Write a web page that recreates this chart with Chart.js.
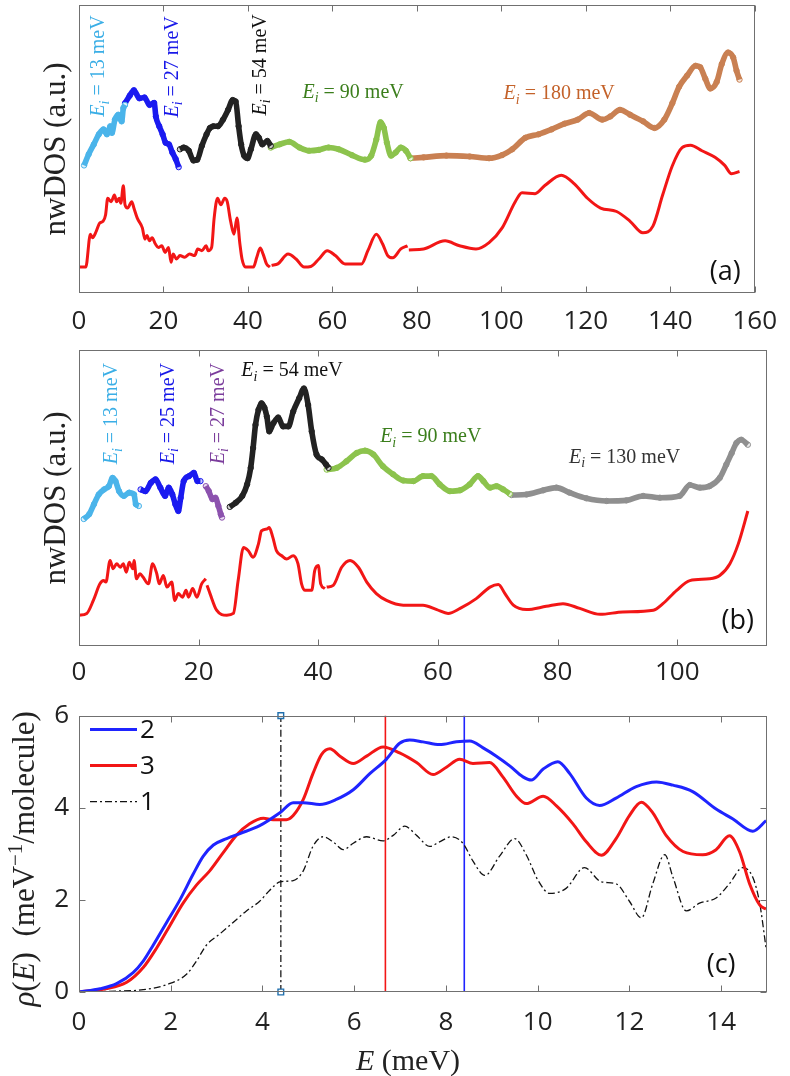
<!DOCTYPE html>
<html>
<head>
<meta charset="utf-8">
<script src="https://cdn.jsdelivr.net/npm/chart.js"></script>
<style>
  html, body { margin: 0; padding: 0; background: #fff; }
  #wrap { position: relative; width: 790px; height: 1076px; overflow: hidden; }
  canvas { position: absolute; left: 0; }
</style>
</head>
<body>
<div id="wrap">
  <canvas id="ca" width="790" height="345" style="top:0px"></canvas>
  <canvas id="cb" width="790" height="345" style="top:345px"></canvas>
  <canvas id="cc" width="790" height="386" style="top:690px"></canvas>
</div>
<script>
// ---------- panel (a): E in meV (0-160), nwDOS in a.u. (0-100)
const aRedE = [0, 1.6, 2.7, 3.2, 4.1, 4.9, 5.7, 6.3, 6.8, 7.6, 8.4, 8.9, 9.5, 9.9, 10.5, 10.9, 11.5, 12.5, 13.0, 13.8,
  15.0, 15.6, 16.1, 16.7, 17.3, 18.1, 18.8, 19.6, 20.4, 21.2, 21.8, 22.3, 23.1, 23.9, 25.0, 26.2, 27.4, 28.1, 29.1, 30.1,
  30.6, 31.4, 32.0, 32.8, 33.6, 34.5, 35.1, 35.9, 36.7, 37.4, 38.1, 38.6, 39.4, 41.3, 42.1, 42.9, 43.6, 44.4, 45.2, 45.4,
  45.6, 47.1, 49.5, 51.4, 53.3, 54.9, 56.8, 58.8, 60.7, 63.0, 66.9, 68.4, 70.4, 71.9, 73.1, 74.3, 76.2, 77.8, 78.0, 78.1,
  81.6, 86.7, 90.1, 94.0, 97.1, 100.2, 103.3, 104.9, 108.0, 110.3, 114.2, 117.3, 120.4, 123.5, 127.3, 130.5, 133.5, 135.9, 138.2, 140.5,
  142.8, 144.8, 147.5, 150.6, 152.9, 154.5, 156.4];
const aRedV = [9.0, 9.0, 20.4, 19.2, 21.5, 24.3, 24.9, 27.2, 32.9, 31.7, 34.0, 31.7, 32.9, 31.2, 37.2, 30.6, 29.5, 31.7, 29.5, 26.0,
  22.6, 18.7, 20.0, 18.1, 19.2, 17.0, 15.8, 16.4, 14.1, 15.8, 10.7, 13.5, 11.8, 13.0, 12.4, 13.5, 13.0, 15.3, 14.7, 16.4,
  14.7, 15.8, 26.0, 32.9, 30.6, 32.9, 31.7, 24.9, 20.4, 26.0, 17.0, 11.8, 9.0, 9.0, 12.4, 15.6, 13.5, 10.1, 9.0, null,
  9.6, 10.1, 13.5, 11.8, 9.0, 9.2, 11.8, 14.7, 13.0, 10.1, 10.1, 14.7, 20.4, 17.0, 13.0, 12.2, 15.3, 16.4, null, 14.9,
  15.3, 18.1, 16.4, 15.3, 17.5, 22.6, 31.7, 34.8, 34.5, 37.3, 40.9, 37.9, 32.9, 29.5, 28.3, 24.9, 20.9, 23.2, 34.0, 44.2,
  50.5, 51.3, 49.4, 47.1, 44.3, 41.4, 42.2];

const aCyanE = [1.2, 2.3, 3.5, 4.7, 5.8, 6.6, 7.4, 7.8, 8.5, 9.3, 10.1, 10.5, 10.9];
const aCyanV = [44.3, 48.2, 51.6, 55.1, 56.8, 55.1, 57.9, 55.6, 60.2, 61.9, 59.6, 64.2, 65.3];
const aBlueE = [10.9, 12.0, 13.0, 14.3, 15.5, 16.7, 17.8, 18.2, 19.0, 19.8, 20.5, 21.3, 22.1, 22.9, 23.6];
const aBlueV = [65.9, 68.5, 70.4, 67.6, 67.9, 65.3, 66.0, 61.3, 57.9, 55.1, 52.2, 51.6, 48.8, 46.5, 43.7];
const aBlackE = [23.9, 24.8, 26.0, 27.1, 28.0, 29.1, 30.2, 31.0, 31.8, 32.9, 34.1, 35.3, 36.4, 37.1, 37.8, 38.4,
  39.1, 39.9, 40.7, 41.9, 42.6, 43.4, 44.6, 45.4];
const aBlackV = [49.9, 50.5, 49.4, 46.0, 46.3, 51.1, 55.1, 57.3, 57.9, 57.9, 60.2, 63.6, 67.0, 66.5, 57.9, 51.6,
  47.7, 46.8, 49.9, 55.1, 53.9, 51.6, 52.8, 51.1];
const aGreenE = [45.4, 47.5, 49.8, 52.2, 54.5, 56.8, 59.1, 61.5, 64.6, 67.7, 69.2, 70.4, 71.4, 72.2, 72.9, 73.9, 75.0, 76.2, 77.4, 78.5];
const aGreenV = [50.5, 51.6, 52.5, 50.5, 49.4, 49.7, 50.5, 49.9, 47.9, 46.3, 47.7, 53.3, 59.3, 57.3, 52.2, 47.7, 48.8, 50.5, 49.4, 46.8];
const aBrownE = [78.5, 81.6, 87.0, 92.5, 97.1, 100.2, 102.6, 105.7, 108.8, 111.9, 115.0, 118.1, 120.8, 123.9, 125.8, 128.1, 130.5,
  133.6, 136.3, 138.6, 140.5, 142.1, 144.0, 146.0, 147.1, 148.3, 149.5, 151.0, 152.2, 153.7, 154.9, 155.7, 156.4];
const aBrownV = [46.8, 47.1, 47.7, 47.4, 46.8, 47.9, 49.9, 53.9, 55.1, 56.8, 58.8, 60.2, 62.5, 60.2, 61.3, 63.6, 61.9,
  59.6, 57.3, 60.2, 65.9, 71.6, 75.5, 78.9, 78.4, 74.4, 71.0, 73.3, 79.5, 83.5, 81.8, 77.2, 74.1];

// ---------- panel (b): E in meV (0-115), nwDOS in a.u. (0-100)
const bRedE = [0, 1.3, 2.4, 3.5, 4.1, 4.5, 5.2, 5.7, 6.3, 6.9, 7.4, 7.9, 8.4, 9.0, 9.2, 9.6, 10.2, 10.7, 11.6, 12.3,
  13.0, 13.4, 14.1, 14.7, 15.5, 16.0, 16.6, 17.3, 17.9, 18.3, 19.0, 19.7, 20.5, 21.2, 21.3, 21.4, 21.9, 23.0, 24.7, 25.8,
  26.6, 27.5, 28.3, 29.1, 30.0, 30.5, 31.4, 31.8, 32.4, 33.0, 33.9, 34.7, 35.8, 36.6, 37.2, 37.8, 38.9, 39.4, 40.0, 40.4,
  41.1, 41.25, 41.4, 42.5, 43.9, 45.3, 46.7, 48.1, 49.7, 51.4, 54.2, 57.5, 59.8, 61.7, 63.7, 66.4, 68.7, 70.1, 71.2, 72.6,
  74.8, 78.1, 80.9, 83.7, 87.1, 90.9, 96.0, 97.6, 99.9, 102.1, 105.4, 107.1, 108.8, 110.2, 111.8];
const bRedV = [10.4, 11.0, 15.4, 21.0, 22.1, 21.6, 28.9, 26.1, 27.8, 26.6, 27.8, 24.9, 28.3, 26.1, 28.9, 22.7, 24.4, 23.3, 21.0, 27.8,
  24.4, 21.0, 23.8, 19.9, 21.6, 15.4, 17.7, 16.5, 18.8, 16.5, 19.4, 16.5, 21.0, 22.7, null, 20.5, 17.7, 12.1, 10.4, 11.0,
  22.1, 33.3, 32.2, 30.0, 34.5, 38.9, 39.5, 40.0, 36.7, 32.2, 30.5, 29.4, 30.5, 27.8, 21.0, 18.8, 18.8, 25.5, 27.2, 21.0,
  19.4, null, 19.9, 20.5, 26.6, 28.9, 26.6, 21.6, 17.7, 15.4, 13.8, 13.8, 12.3, 11.0, 12.7, 16.0, 19.9, 20.8, 17.7, 13.8,
  12.3, 13.4, 14.3, 12.7, 10.7, 11.5, 12.1, 14.3, 18.8, 22.1, 22.7, 23.8, 27.8, 34.5, 45.6];

const bCyanE = [0.8, 1.7, 2.5, 3.3, 4.2, 5.0, 5.6, 6.1, 6.7, 7.5, 8.4, 9.2, 9.5, 10.0];
const bCyanV = [42.9, 44.5, 47.9, 51.2, 52.9, 54.0, 56.8, 55.7, 52.3, 50.7, 51.8, 51.2, 47.9, 47.3];
const bBlueE = [10.3, 11.1, 12.0, 12.8, 13.6, 14.4, 15.0, 15.6, 16.1, 16.6, 17.0, 17.5, 18.4, 19.2, 19.8, 20.3];
const bBlueV = [52.9, 52.3, 55.1, 56.3, 53.5, 50.7, 53.5, 51.2, 47.9, 45.6, 50.1, 55.7, 57.4, 58.5, 55.7, 55.7];
const bPurpleE = [21.2, 21.7, 22.3, 22.8, 23.3, 23.7, 23.9];
const bPurpleV = [54.0, 52.3, 49.6, 50.1, 47.3, 44.5, 43.4];
const bBlackE = [25.2, 26.2, 27.3, 28.1, 28.7, 29.1, 29.5, 30.0, 30.5, 31.0, 31.4, 31.8, 32.5, 33.3, 34.1, 35.0,
  35.8, 36.8, 37.6, 38.3, 38.9, 39.7, 40.6, 41.3, 41.7];
const bBlackV = [47.0, 48.4, 50.7, 54.6, 60.2, 66.9, 74.7, 79.8, 82.0, 80.5, 77.5, 72.5, 75.3, 77.2, 74.2, 74.2,
  79.2, 83.7, 87.0, 81.4, 72.5, 64.7, 63.0, 61.3, 60.2];
const bGreenE = [41.4, 43.1, 44.7, 46.4, 47.8, 49.2, 50.8, 52.5, 54.2, 55.9, 57.5, 58.9, 60.3, 62.0, 63.7, 65.3,
  66.7, 67.6, 68.7, 69.8, 70.9, 72.0];
const bGreenV = [59.6, 60.2, 62.4, 65.2, 66.0, 64.7, 60.7, 58.0, 55.9, 55.7, 57.4, 57.4, 54.6, 52.3, 52.6, 54.6,
  57.4, 55.7, 53.5, 54.0, 52.9, 51.4];
const bGrayE = [72.3, 74.8, 77.6, 79.8, 82.0, 84.8, 88.2, 91.5, 94.3, 97.1, 100.4, 102.1, 103.8, 105.4, 107.1, 108.2,
  109.1, 109.9, 110.7, 111.8];
const bGrayV = [51.0, 51.2, 52.6, 53.5, 51.8, 49.9, 49.0, 49.2, 50.7, 50.1, 50.7, 54.4, 53.5, 54.0, 56.8, 61.3,
  65.2, 68.6, 69.7, 68.0];

// ---------- panel (c): rho(E) in meV^-1/molecule
const cBlueE = [0, 0.46, 0.82, 1.18, 1.40, 1.62, 1.91, 2.20, 2.49, 2.71, 2.93, 3.22, 3.51, 3.94, 4.38, 4.67, 4.89, 5.25,
  5.61, 5.98, 6.34, 6.70, 6.99, 7.21, 7.50, 7.86, 8.23, 8.52, 8.81, 9.10, 9.39, 9.68, 9.86, 10.12, 10.44, 10.70, 11.06,
  11.35, 11.71, 12.15, 12.59, 12.95, 13.38, 13.89, 14.25, 14.69, 14.98];
const cBlueV = [0, 0.07, 0.18, 0.42, 0.67, 1.02, 1.51, 2.00, 2.56, 2.95, 3.19, 3.33, 3.44, 3.61, 3.89, 4.11, 4.11, 4.07,
  4.18, 4.39, 4.74, 5.05, 5.40, 5.47, 5.43, 5.37, 5.43, 5.45, 5.30, 5.12, 4.91, 4.67, 4.60, 4.84, 5.00, 4.74, 4.21,
  4.05, 4.21, 4.46, 4.56, 4.49, 4.35, 3.97, 3.76, 3.49, 3.72];
const cRedE = [0, 0.58, 1.04, 1.40, 1.69, 1.98, 2.27, 2.56, 2.85, 3.14, 3.43, 3.72, 4.02, 4.23, 4.52, 4.67, 4.89, 5.10,
  5.29, 5.47, 5.69, 5.98, 6.27, 6.63, 6.99, 7.36, 7.72, 8.01, 8.30, 8.59, 8.95, 9.24, 9.54, 9.75, 10.12, 10.41, 10.77,
  11.06, 11.39, 11.71, 12.00, 12.26, 12.51, 12.80, 13.17, 13.60, 13.89, 14.18, 14.40, 14.62, 14.84, 14.98];
const cRedV = [0, 0.07, 0.21, 0.53, 0.95, 1.44, 1.93, 2.32, 2.63, 3.02, 3.40, 3.65, 3.77, 3.74, 3.74, 3.83, 4.18, 4.74,
  5.16, 5.28, 5.12, 4.96, 5.12, 5.32, 5.19, 4.98, 4.72, 4.88, 5.05, 4.96, 4.98, 4.67, 4.25, 4.09, 4.25, 4.04, 3.65,
  3.26, 2.97, 3.33, 3.83, 4.12, 3.89, 3.40, 3.05, 2.98, 3.09, 3.39, 3.05, 2.35, 1.89, 1.80];
const cBlackE = [0, 0.82, 1.40, 1.91, 2.35, 2.56, 2.78, 3.07, 3.36, 3.65, 3.94, 4.16, 4.38, 4.67, 4.89, 5.10, 5.32, 5.54,
  5.76, 5.98, 6.27, 6.63, 6.85, 7.10, 7.36, 7.65, 7.86, 8.12, 8.37, 8.59, 8.85, 9.17, 9.50, 9.75, 10.01, 10.26, 10.62,
  11.02, 11.39, 11.71, 12.00, 12.26, 12.51, 12.77, 12.95, 13.24, 13.53, 13.89, 14.18, 14.47, 14.69, 14.84, 14.98];
const cBlackV = [0, 0.02, 0.05, 0.16, 0.39, 0.67, 1.02, 1.26, 1.51, 1.76, 1.97, 2.21, 2.39, 2.42, 2.63, 3.16, 3.37, 3.26,
  3.09, 3.23, 3.37, 3.28, 3.40, 3.60, 3.40, 3.16, 3.26, 3.37, 3.23, 2.84, 2.53, 2.95, 3.33, 2.98, 2.42, 2.14, 2.25,
  2.70, 2.39, 2.35, 1.97, 1.61, 2.35, 2.98, 2.49, 1.76, 1.93, 2.04, 2.35, 2.70, 2.49, 1.93, 0.95];
const cLabels = ['2', '3', '1'];
const markE = 4.40;      // dash-dot marker line
const redMeanE = 6.68;   // red vertical
const blueMeanE = 8.40;  // blue vertical

// ---------- styles
const SANS = '"Open Sans", "Noto Sans", sans-serif';
const SERIF = '"Liberation Serif", "Times New Roman", serif';
const RED = '#f21616';
const C_BLUE = '#1f24ff';

const pts = (xs, ys) => xs.map((x, i) => ({ x: x, y: ys[i] }));

// dense chain of open circles: coloured band with a pale core, plus circles at the read points
function beads(xs, ys, color, tint) {
  return [
    { data: pts(xs, ys), borderColor: color, borderWidth: 5.6, pointRadius: 0 },
    { data: pts(xs, ys), borderColor: tint, borderWidth: 3.4, pointRadius: 2.7, pointBorderWidth: 1,
      pointBorderColor: color, pointBackgroundColor: tint }
  ];
}

function drawRich(ctx, parts, cx, cy, size, color, rot, family) {
  const fontOf = p => (p.it ? 'italic ' : '') + ((p.sub || p.sup) ? Math.round(size * 0.68) : size) + 'px ' + family;
  ctx.save();
  ctx.translate(cx, cy);
  if (rot) ctx.rotate(rot);
  ctx.fillStyle = color;
  ctx.textBaseline = 'alphabetic';
  let w = 0;
  const ws = parts.map(p => { ctx.font = fontOf(p); const m = ctx.measureText(p.t).width; w += m; return m; });
  let x = -w / 2;
  parts.forEach((p, i) => {
    ctx.font = fontOf(p);
    const dy = p.sub ? size * 0.22 : (p.sup ? -size * 0.4 : 0);
    ctx.fillText(p.t, x, size * 0.33 + dy);
    x += ws[i];
  });
  ctx.restore();
}

const ei = txt => [{ t: 'E', it: true }, { t: 'i', it: true, sub: true }, { t: ' = ' + txt }];
const atData = (x, y) => c => [c.scales.x.getPixelForValue(x), c.scales.y.getPixelForValue(y)];

function framePlugin(yTicks) {
  return {
    id: 'frame',
    afterDatasetsDraw(chart) {
      const { ctx, chartArea: a, scales } = chart;
      const L = Math.round(a.left) + 0.5, R = Math.round(a.right) - 0.5;
      const T = Math.round(a.top) + 0.5, B = Math.round(a.bottom) - 0.5;
      ctx.save();
      ctx.strokeStyle = '#707070';
      ctx.lineWidth = 1;
      ctx.setLineDash([]);
      ctx.strokeRect(L, T, R - L, B - T);
      ctx.beginPath();
      scales.x.ticks.forEach(t => {
        const x = Math.round(scales.x.getPixelForValue(t.value)) + 0.5;
        ctx.moveTo(x, B); ctx.lineTo(x, B - 6);
        ctx.moveTo(x, T); ctx.lineTo(x, T + 6);
      });
      if (yTicks) {
        scales.y.ticks.forEach(t => {
          const y = Math.round(scales.y.getPixelForValue(t.value)) + 0.5;
          ctx.moveTo(L, y); ctx.lineTo(L + 6, y);
          ctx.moveTo(R, y); ctx.lineTo(R - 6, y);
        });
      }
      ctx.stroke();
      ctx.restore();
    }
  };
}

function notesPlugin(items) {
  return {
    id: 'notes',
    afterDraw(chart) {
      items.forEach(it => {
        const p = it.at(chart);
        drawRich(chart.ctx, it.parts, p[0], p[1], it.size, it.color, it.rot || 0, it.family || SERIF);
      });
    }
  };
}

function dosChart(id, o) {
  return new Chart(document.getElementById(id), {
    type: 'line',
    data: { datasets: o.datasets },
    options: {
      responsive: false,
      animation: false,
      devicePixelRatio: 1,
      layout: { padding: { top: o.padTop, right: 23, left: 0, bottom: 0 } },
      plugins: { legend: { display: false }, tooltip: { enabled: false } },
      elements: { line: { cubicInterpolationMode: 'monotone', fill: false }, point: { radius: 0 } },
      scales: {
        x: {
          type: 'linear', min: 0, max: o.xMax,
          ticks: { stepSize: 20, includeBounds: false, padding: o.tickPad, color: '#222', font: { family: SANS, size: 26 } },
          grid: { display: false, drawTicks: false },
          border: { display: false },
          afterFit: s => { s.height = o.xHeight; }
        },
        y: {
          min: 0, max: 100,
          ticks: { display: false },
          grid: { display: false, drawTicks: false },
          border: { display: false },
          title: { display: true, text: 'nwDOS (a.u.)', color: '#222',
                   font: { family: SERIF, size: 31, weight: 'normal' }, padding: { top: 38, bottom: 0 } },
          afterFit: s => { s.width = 79; }
        }
      }
    },
    plugins: [framePlugin(false), notesPlugin(o.notes)]
  });
}

const ROT = -Math.PI / 2;
const COL = {
  cyan: ['#4ab4ea', '#dcf0fb'], blue: ['#1a1af0', '#c6c6fb'], black: ['#222222', '#cfcfcf'],
  green: ['#8cc34d', '#e7f4d9'], brown: ['#c98052', '#f7e6da'], purple: ['#8c52ae', '#eadcf2'],
  gray: ['#8f8f8f', '#ececec']
};

dosChart('ca', {
  xMax: 160, padTop: 0, xHeight: 52, tickPad: 13,
  datasets: [
    { data: pts(aRedE, aRedV), borderColor: RED, borderWidth: 3 },
    ...beads(aCyanE, aCyanV, ...COL.cyan),
    ...beads(aBlueE, aBlueV, ...COL.blue),
    ...beads(aBlackE, aBlackV, ...COL.black),
    ...beads(aGreenE, aGreenV, ...COL.green),
    ...beads(aBrownE, aBrownV, ...COL.brown)
  ],
  notes: [
    { at: atData(4.4, 78.8), parts: ei('13 meV'), size: 20, color: '#3aaee6', rot: ROT },
    { at: atData(21.9, 78.5), parts: ei('27 meV'), size: 20, color: '#1818e8', rot: ROT },
    { at: atData(42.6, 79.2), parts: ei('54 meV'), size: 20, color: '#111', rot: ROT },
    { at: atData(64.9, 70.0), parts: ei('90 meV'), size: 20, color: '#3b7e1c' },
    { at: atData(113.7, 69.6), parts: ei('180 meV'), size: 20, color: '#c4622a' },
    { at: atData(153, 7.5), parts: [{ t: '(a)' }], size: 27, color: '#111', family: SANS }
  ]
});

dosChart('cb', {
  xMax: 115, padTop: 3, xHeight: 44, tickPad: 11,
  datasets: [
    { data: pts(bRedE, bRedV), borderColor: RED, borderWidth: 3 },
    ...beads(bCyanE, bCyanV, ...COL.cyan),
    ...beads(bBlueE, bBlueV, ...COL.blue),
    ...beads(bPurpleE, bPurpleV, ...COL.purple),
    ...beads(bBlackE, bBlackV, ...COL.black),
    ...beads(bGreenE, bGreenV, ...COL.green),
    ...beads(bGrayE, bGrayV, ...COL.gray)
  ],
  notes: [
    { at: atData(5.3, 78.5), parts: ei('13 meV'), size: 20, color: '#3aaee6', rot: ROT },
    { at: atData(14.7, 78.5), parts: ei('25 meV'), size: 20, color: '#1818e8', rot: ROT },
    { at: atData(23.1, 78.5), parts: ei('27 meV'), size: 20, color: '#7b3d9c', rot: ROT },
    { at: atData(35.6, 93.3), parts: ei('54 meV'), size: 20, color: '#111' },
    { at: atData(58.8, 71.1), parts: ei('90 meV'), size: 20, color: '#3b7e1c' },
    { at: atData(91.2, 64.1), parts: ei('130 meV'), size: 20, color: '#333' },
    { at: atData(110.1, 8.7), parts: [{ t: '(b)' }], size: 27, color: '#111', family: SANS }
  ]
});

// legend of panel (c), drawn inside the plot box like the original
const legendC = {
  id: 'legendC',
  afterDatasetsDraw(chart) {
    const { ctx, chartArea: a } = chart;
    [0, 1, 2].forEach((di, r) => {
      const ds = chart.data.datasets[di];
      const y = a.top + 14 + r * 36;
      ctx.save();
      ctx.strokeStyle = ds.borderColor;
      ctx.lineWidth = ds.borderWidth;
      ctx.setLineDash(ds.borderDash || []);
      ctx.beginPath();
      ctx.moveTo(a.left + 11, y);
      ctx.lineTo(a.left + 58, y);
      ctx.stroke();
      ctx.setLineDash([]);
      ctx.fillStyle = '#111';
      ctx.font = '26px ' + SANS;
      ctx.textBaseline = 'middle';
      ctx.fillText(ds.label, a.left + 61, y + 1);
      ctx.restore();
    });
  }
};

new Chart(document.getElementById('cc'), {
  type: 'line',
  data: {
    datasets: [
      { label: cLabels[0], data: pts(cBlueE, cBlueV), borderColor: C_BLUE, borderWidth: 3 },
      { label: cLabels[1], data: pts(cRedE, cRedV), borderColor: RED, borderWidth: 3 },
      { label: cLabels[2], data: pts(cBlackE, cBlackV), borderColor: '#111', borderWidth: 1.3, borderDash: [7, 3, 2, 3] },
      { data: pts([markE, markE], [0, 6]), borderColor: '#3a3a3a', borderWidth: 1.5, borderDash: [7, 3, 2, 3],
        pointRadius: 4, pointStyle: 'rect', pointBorderColor: '#1f6fae', pointBackgroundColor: '#fff',
        pointBorderWidth: 1.4, clip: false },
      { data: pts([redMeanE, redMeanE], [0, 6]), borderColor: RED, borderWidth: 1.6 },
      { data: pts([blueMeanE, blueMeanE], [0, 6]), borderColor: C_BLUE, borderWidth: 1.6 }
    ]
  },
  options: {
    responsive: false,
    animation: false,
    devicePixelRatio: 1,
    layout: { padding: { top: 17, right: 23, left: 0, bottom: 0 } },
    plugins: { legend: { display: false }, tooltip: { enabled: false } },
    elements: { line: { cubicInterpolationMode: 'monotone', fill: false }, point: { radius: 0 } },
    scales: {
      x: {
        type: 'linear', min: 0, max: 15,
        ticks: { stepSize: 2, includeBounds: false, padding: 15, color: '#222', font: { family: SANS, size: 26 } },
        grid: { display: false, drawTicks: false },
        border: { display: false },
        afterFit: s => { s.height = 84; }
      },
      y: {
        min: 0, max: 6,
        ticks: { stepSize: 2, padding: 10, color: '#222', font: { family: SANS, size: 26 } },
        grid: { display: false, drawTicks: false },
        border: { display: false },
        afterFit: s => { s.width = 79; }
      }
    }
  },
  plugins: [framePlugin(true), legendC, notesPlugin([
    { at: atData(14.0, 0.6), parts: [{ t: '(c)' }], size: 27, color: '#111', family: SANS },
    { at: c => [c.chartArea.left + 329, c.chartArea.bottom + 68], parts: [{ t: 'E', it: true }, { t: ' (meV)' }],
      size: 30, color: '#222' },
    { at: c => [24, (c.chartArea.top + c.chartArea.bottom) / 2 + 5],
      parts: [{ t: 'ρ', it: true }, { t: '(' }, { t: 'E', it: true }, { t: ')  (meV' }, { t: '−1', sup: true }, { t: '/molecule)' }],
      size: 31, color: '#222', rot: ROT }
  ])]
});
</script>
</body>
</html>
